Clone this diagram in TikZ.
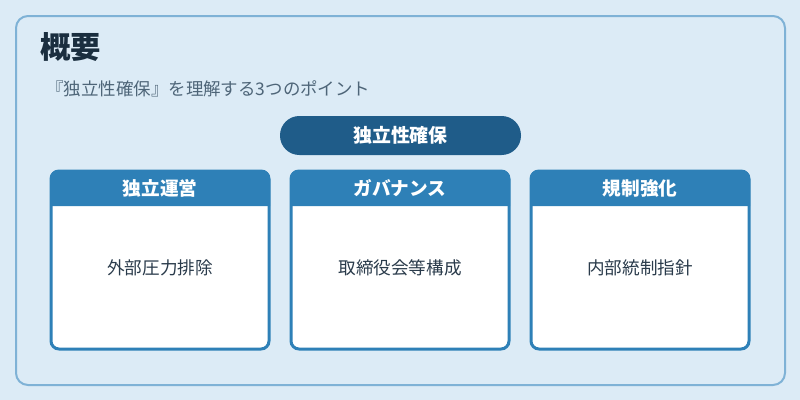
\documentclass[tikz,border=0pt]{standalone}
\usepackage{fontspec}
\setmainfont{Noto Sans CJK JP}
\definecolor{bgc}{HTML}{DCEBF6}
\definecolor{outerc}{HTML}{7FB2D6}
\definecolor{pillc}{HTML}{1F5C89}
\definecolor{headc}{HTML}{2E80B7}
\definecolor{titlec}{HTML}{1A2E3F}
\definecolor{subc}{HTML}{4E6578}
\definecolor{bodyc}{HTML}{2A3B4B}
\tikzset{
  x=0.75pt,y=-0.75pt,
  cardbox/.style={draw=headc,line width=2.25pt,fill=white,rounded corners=6pt,minimum width=163.5pt,minimum height=133.5pt,inner sep=0pt},
  headtxt/.style={text=white,font=\bfseries\fontsize{14}{16}\selectfont},
  bodytxt/.style={text=bodyc,font=\fontsize{13.2}{15}\selectfont},
}
\begin{document}
\begin{tikzpicture}
\useasboundingbox (0,0) rectangle (800,400);
\fill[bgc] (0,0) rectangle (800,400);
\draw[outerc,line width=1.5pt,rounded corners=9pt,fill=bgc] (16,16) rectangle (785,385);
\node[anchor=west,text=titlec,font=\bfseries\fontsize{22.8}{26}\selectfont,inner sep=0pt] (title) at (40,47) {概要};
\node[anchor=west,text=subc,font=\fontsize{13.1}{15}\selectfont,inner sep=0pt] (sub) at (46,89) {『独立性確保』を理解する3つのポイント};
\node[fill=pillc,rounded corners=14.5pt,minimum width=180.75pt,minimum height=29.25pt,text=white,font=\bfseries\fontsize{14.2}{16}\selectfont,inner sep=0pt] (pill) at (400.5,135.5) {独立性確保};
\foreach \n/\cx/\h/\b in {a/160/独立運営/外部圧力排除, b/400/ガバナンス/取締役会等構成, c/640/規制強化/内部統制指針}{
  \node[cardbox] (card\n) at (\cx,260) {};
  \fill[headc] (\cx-110,206) [rounded corners=6pt] -- (\cx-110,170) -- (\cx+110,170) [sharp corners] -- (\cx+110,206) -- cycle;
  \node[headtxt] (head\n) at (\cx,188) {\h};
  \node[bodytxt] (body\n) at (\cx,267.5) {\b};
}
\end{tikzpicture}
\end{document}
